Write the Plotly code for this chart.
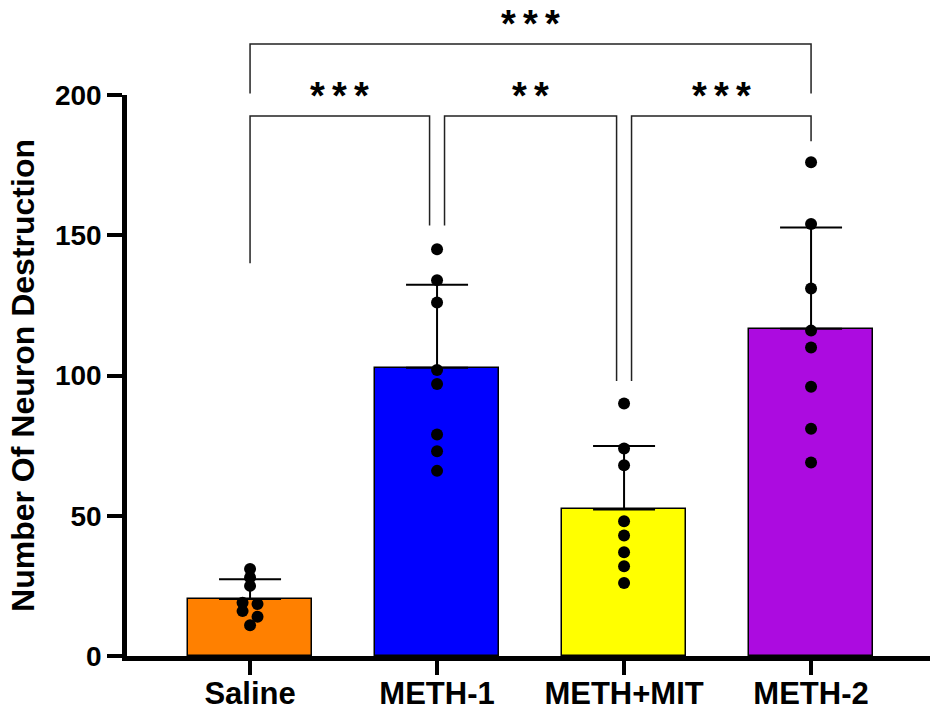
import numpy as np
import plotly.graph_objects as go

# Group labels and per-animal counts
groups = ["Saline", "METH-1", "METH+MIT", "METH-2"]
saline = [31, 28, 25, 19, 18.5, 16, 14, 11]
meth1 = [145, 134, 126, 102, 97, 79, 73, 66]
meth_mit = [90, 74, 68, 48, 43, 37, 32, 26]
meth2 = [176, 154, 131, 116, 110, 96, 81, 69]

bar_colors = ["#FF8000", "#0000FF", "#FFFF00", "#AC0BE0"]
y_ticks = [0, 50, 100, 150, 200]
y_title = "Number Of Neuron Destruction"

samples = [saline, meth1, meth_mit, meth2]
means = [float(np.mean(s)) for s in samples]
sds = [float(np.std(s, ddof=1)) for s in samples]

YMAX = 200
FONT = "Arial, Liberation Sans, Helvetica, sans-serif"


def spread(vals, tol=2.6, step=0.08):
    """Place near-equal values side by side, centred on the category."""
    order = sorted(range(len(vals)), key=lambda i: -vals[i])
    rows = []
    for i in order:
        if rows and abs(vals[rows[-1][0]] - vals[i]) <= tol:
            rows[-1].append(i)
        else:
            rows.append([i])
    offs = [0.0] * len(vals)
    for row in rows:
        n = len(row)
        for k, i in enumerate(row):
            offs[i] = (k - (n - 1) / 2) * step
    return offs


fig = go.Figure()

fig.add_trace(go.Bar(
    x=list(range(len(groups))),
    y=means,
    width=0.663,
    marker=dict(color=bar_colors, line=dict(color="black", width=1.5)),
    error_y=dict(type="data", symmetric=False, array=sds,
                 arrayminus=[0] * len(sds), color="black",
                 thickness=2, width=31),
    showlegend=False,
))

for gi, vals in enumerate(samples):
    offs = spread(vals)
    fig.add_trace(go.Scatter(
        x=[gi + o for o in offs],
        y=vals,
        mode="markers",
        marker=dict(color="black", size=12, line=dict(width=0)),
        showlegend=False,
        cliponaxis=False,
    ))

# Significance brackets: (left, right, level, left drop, right drop, left nudge, right nudge, star count)
brackets = [
    (0, 1, 192.5, 140.0, 153.5, 0.0, -0.04, 3),
    (1, 2, 192.5, 153.5, 98.0, 0.04, -0.04, 2),
    (2, 3, 192.5, 98.0, 183.5, 0.04, 0.0, 3),
    (0, 3, 218.2, 200.5, 200.5, 0.0, 0.0, 3),
]
STAR_PITCH = 22
for a, b, lvl, da, db, na, nb, n_stars in brackets:
    xa, xb = a + na, b + nb
    fig.add_shape(
        type="path",
        xref="x", yref="paper",
        path=f"M {xa},{da / YMAX} L {xa},{lvl / YMAX} L {xb},{lvl / YMAX} L {xb},{db / YMAX}",
        line=dict(color="#222222", width=1.5),
        layer="above",
    )
    for k in range(n_stars):
        fig.add_annotation(
            x=(xa + xb) / 2, xref="x",
            y=(lvl - 1.2) / YMAX, yref="paper",
            xshift=(k - (n_stars - 1) / 2) * STAR_PITCH,
            text="*", showarrow=False,
            yanchor="bottom", xanchor="center",
            font=dict(family=FONT, size=38, color="black", weight="bold"),
        )

fig.update_layout(
    width=932, height=713,
    margin=dict(l=127, r=2, t=95, b=57, autoexpand=False),
    paper_bgcolor="white", plot_bgcolor="white",
    font=dict(family=FONT, color="black"),
    bargap=0,
)

fig.update_xaxes(
    range=[-0.658, 3.636],
    tickmode="array", tickvals=list(range(len(groups))), ticktext=groups,
    showline=True, linecolor="black", linewidth=4.5,
    ticks="outside", ticklen=14, tickwidth=4, tickcolor="black",
    ticklabelstandoff=-8,
    tickfont=dict(family=FONT, size=31, color="black", weight="bold"),
    showgrid=False, zeroline=False, automargin=False,
)

fig.update_yaxes(
    range=[0, YMAX],
    tickmode="array", tickvals=y_ticks,
    showline=True, linecolor="black", linewidth=4.5,
    ticks="outside", ticklen=15, tickwidth=4, tickcolor="black",
    tickfont=dict(family=FONT, size=28, color="black", weight="bold"),
    title=dict(text=y_title, standoff=12,
               font=dict(family=FONT, size=32, color="black", weight="bold")),
    showgrid=False, zeroline=False, automargin=False,
)

fig.write_html("out.html")
